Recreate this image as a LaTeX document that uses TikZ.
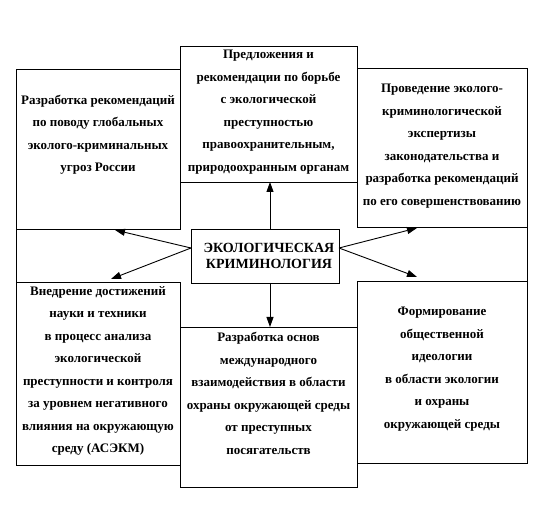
\documentclass[tikz,border=0pt]{standalone}
\usepackage{fontspec}
\setmainfont{Liberation Serif}
\usetikzlibrary{arrows.meta}
\tikzset{
  boxnode/.style={draw, line width=0.9pt, inner sep=0pt, outer sep=0pt, anchor=north west},
  txt/.style={align=center, inner sep=0pt, font=\fontsize{13}{22.5}\selectfont\bfseries},
  ctxt/.style={align=center, inner sep=0pt, font=\fontsize{14}{16}\selectfont\bfseries},
  arr/.style={line width=0.9pt, -{Triangle[length=10pt,width=7pt]}},
  edge/.style={line width=0.9pt}
}
\begin{document}
\begin{tikzpicture}[x=1pt,y=-1pt]
\useasboundingbox (0,0) rectangle (550,508);
% boxes
\node[boxnode, minimum width=164pt, minimum height=160pt] (tl) at (16,69) {};
\node[boxnode, minimum width=177pt, minimum height=136pt] (tc) at (180,46) {};
\node[boxnode, minimum width=170pt, minimum height=159pt] (tr) at (357,68) {};
\node[boxnode, minimum width=164pt, minimum height=183pt] (bl) at (16,282) {};
\node[boxnode, minimum width=177pt, minimum height=160pt] (bc) at (180,327) {};
\node[boxnode, minimum width=170pt, minimum height=182pt] (br) at (357,281) {};
\node[boxnode, minimum width=148pt, minimum height=54pt] (ce) at (191,229) {};
% outer edges between boxes
\draw[edge] (tl.south west) -- (bl.north west);
\draw[edge] (tr.south east) -- (br.north east);
% texts
\node[txt] (tlt) at (98,135) {Разработка рекомендаций\\по поводу глобальных\\эколого-криминальных\\угроз России};
\node[txt] (tct) at (268.5,112) {Предложения и\\рекомендации по борьбе\\с экологической\\преступностью\\правоохранительным,\\природоохранным органам};
\node[txt] (trt) at (442,146) {Проведение эколого-\\криминологической\\экспертизы\\законодательства и\\разработка рекомендаций\\по его совершенствованию};
\node[txt] (blt) at (98,371) {Внедрение достижений\\науки и техники\\в процесс анализа\\экологической\\преступности и контроля\\за уровнем негативного\\влияния на окружающую\\среду (АСЭКМ)};
\node[txt] (bct) at (268.5,393.5) {Разработка основ\\международного\\взаимодействия в области\\охраны окружающей среды\\от преступных\\посягательств};
\node[txt] (brt) at (442,369) {Формирование\\общественной\\идеологии\\в области экологии\\и охраны\\окружающей среды};
\node[ctxt] (cet) at (269,256) {ЭКОЛОГИЧЕСКАЯ\\КРИМИНОЛОГИЯ};
% arrow endpoints
\coordinate (cl) at (191,248);
\coordinate (cr) at (339,248);
\coordinate (ul) at (115,230);
\coordinate (ll) at (111,279);
\coordinate (ur) at (417,228);
\coordinate (lr) at (417,277);
\coordinate (up0) at (270,229);
\coordinate (up1) at (270,182);
\coordinate (dn0) at (270,283);
\coordinate (dn1) at (270,327);
\draw[arr] (up0) -- (up1);
\draw[arr] (dn0) -- (dn1);
\draw[arr] (cl) -- (ul);
\draw[arr] (cl) -- (ll);
\draw[arr] (cr) -- (ur);
\draw[arr] (cr) -- (lr);
\end{tikzpicture}
\end{document}
